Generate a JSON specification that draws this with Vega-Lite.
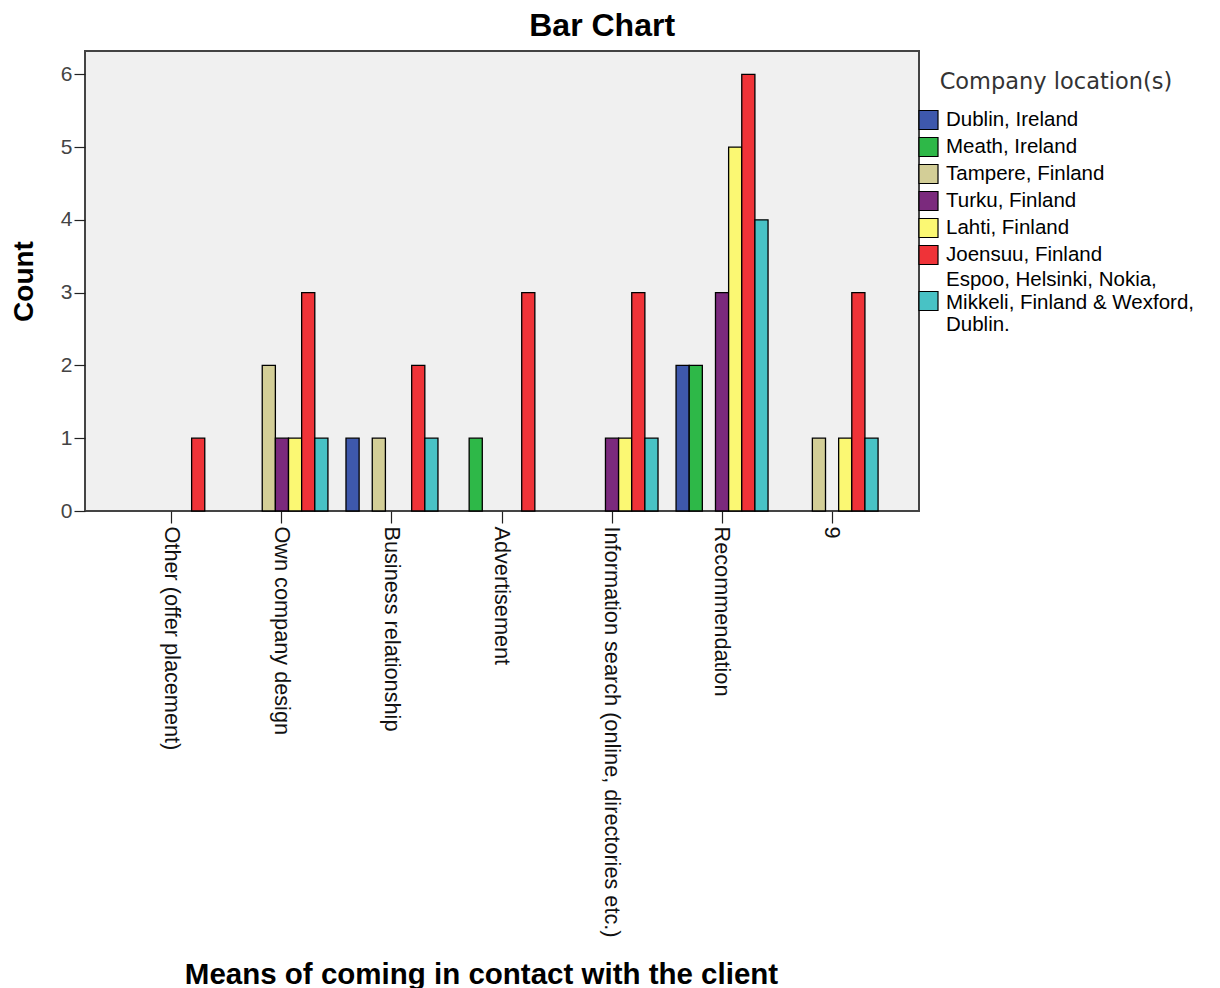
{
  "$schema": "https://vega.github.io/schema/vega-lite/v6.json",
  "autosize": {"type": "none"},
  "padding": {"left": 85, "top": 51, "right": 301, "bottom": 477},
  "width": 834,
  "height": 460,
  "background": "white",
  "title": {
    "text": "Bar Chart",
    "fontSize": 32,
    "font": "Liberation Sans",
    "fontWeight": "bold",
    "color": "#000000",
    "anchor": "middle",
    "frame": "bounds",
    "offset": 8
  },
  "config": {
    "view": {"fill": "#F0F0F0", "stroke": "#444444", "strokeWidth": 2},
    "axis": {"grid": false, "domain": false}
  },
  "data": {
    "values": [
      {"means": "Other (offer placement)", "location": "Joensuu, Finland", "count": 1},
      {"means": "Own company design", "location": "Tampere, Finland", "count": 2},
      {"means": "Own company design", "location": "Turku, Finland", "count": 1},
      {"means": "Own company design", "location": "Lahti, Finland", "count": 1},
      {"means": "Own company design", "location": "Joensuu, Finland", "count": 3},
      {"means": "Own company design", "location": "Espoo, Helsinki, Nokia, Mikkeli, Finland & Wexford, Dublin.", "count": 1},
      {"means": "Business relationship", "location": "Dublin, Ireland", "count": 1},
      {"means": "Business relationship", "location": "Tampere, Finland", "count": 1},
      {"means": "Business relationship", "location": "Joensuu, Finland", "count": 2},
      {"means": "Business relationship", "location": "Espoo, Helsinki, Nokia, Mikkeli, Finland & Wexford, Dublin.", "count": 1},
      {"means": "Advertisement", "location": "Meath, Ireland", "count": 1},
      {"means": "Advertisement", "location": "Joensuu, Finland", "count": 3},
      {"means": "Information search (online, directories etc.)", "location": "Turku, Finland", "count": 1},
      {"means": "Information search (online, directories etc.)", "location": "Lahti, Finland", "count": 1},
      {"means": "Information search (online, directories etc.)", "location": "Joensuu, Finland", "count": 3},
      {"means": "Information search (online, directories etc.)", "location": "Espoo, Helsinki, Nokia, Mikkeli, Finland & Wexford, Dublin.", "count": 1},
      {"means": "Recommendation", "location": "Dublin, Ireland", "count": 2},
      {"means": "Recommendation", "location": "Meath, Ireland", "count": 2},
      {"means": "Recommendation", "location": "Turku, Finland", "count": 3},
      {"means": "Recommendation", "location": "Lahti, Finland", "count": 5},
      {"means": "Recommendation", "location": "Joensuu, Finland", "count": 6},
      {"means": "Recommendation", "location": "Espoo, Helsinki, Nokia, Mikkeli, Finland & Wexford, Dublin.", "count": 4},
      {"means": "9", "location": "Tampere, Finland", "count": 1},
      {"means": "9", "location": "Lahti, Finland", "count": 1},
      {"means": "9", "location": "Joensuu, Finland", "count": 3},
      {"means": "9", "location": "Espoo, Helsinki, Nokia, Mikkeli, Finland & Wexford, Dublin.", "count": 1}
    ]
  },
  "mark": {"type": "bar", "stroke": "#000000", "strokeWidth": 1.3},
  "encoding": {
    "x": {
      "field": "means",
      "type": "nominal",
      "sort": ["Other (offer placement)", "Own company design", "Business relationship", "Advertisement", "Information search (online, directories etc.)", "Recommendation", "9"],
      "scale": {
        "domain": ["Other (offer placement)", "Own company design", "Business relationship", "Advertisement", "Information search (online, directories etc.)", "Recommendation", "9"],
        "paddingInner": 0.164,
        "paddingOuter": 0.372
      },
      "axis": {
        "title": "Means of coming in contact with the client",
        "titleFont": "Liberation Sans",
        "titleFontSize": 29.5,
        "titleFontWeight": "bold",
        "titleColor": "#000000",
        "titleX": 396,
        "titleY": 472,
        "titleAlign": "center",
        "titleBaseline": "alphabetic",
        "labelAngle": 90,
        "labelFont": "Liberation Sans",
        "labelFontSize": 21.7,
        "labelColor": "#111111",
        "labelLimit": 600,
        "labelPadding": 3,
        "tickSize": 12,
        "tickColor": "#222222",
        "tickWidth": 1.2
      }
    },
    "xOffset": {
      "field": "location",
      "type": "nominal",
      "scale": {
        "domain": ["Dublin, Ireland", "Meath, Ireland", "Tampere, Finland", "Turku, Finland", "Lahti, Finland", "Joensuu, Finland", "Espoo, Helsinki, Nokia, Mikkeli, Finland & Wexford, Dublin."],
        "paddingInner": 0,
        "paddingOuter": 0
      }
    },
    "y": {
      "field": "count",
      "type": "quantitative",
      "scale": {"domain": [0, 6.32], "nice": false, "zero": true},
      "axis": {
        "title": "Count",
        "titleFont": "Liberation Sans",
        "titleFontSize": 28,
        "titleFontWeight": "bold",
        "titleColor": "#000000",
        "titlePadding": 22,
        "values": [0, 1, 2, 3, 4, 5, 6],
        "format": "d",
        "labelFont": "Liberation Sans",
        "labelFontSize": 21,
        "labelColor": "#444444",
        "labelPadding": 2,
        "tickSize": 11,
        "tickColor": "#222222",
        "tickWidth": 1.2
      }
    },
    "color": {
      "field": "location",
      "type": "nominal",
      "scale": {
        "domain": ["Dublin, Ireland", "Meath, Ireland", "Tampere, Finland", "Turku, Finland", "Lahti, Finland", "Joensuu, Finland", "Espoo, Helsinki, Nokia, Mikkeli, Finland & Wexford, Dublin."],
        "range": ["#3E58AC", "#2EB848", "#D3CE97", "#7B2A7D", "#FBF873", "#EF3338", "#48C2C5"]
      },
      "legend": {
        "title": "Company location(s)",
        "orient": "none",
        "legendX": 833,
        "legendY": 20,
        "titleFont": "DejaVu Sans",
        "titleFontSize": 22.5,
        "titleFontWeight": "normal",
        "titleColor": "#333333",
        "titleAnchor": "middle",
        "titleLimit": 500,
        "titlePadding": 16,
        "symbolType": "square",
        "symbolSize": 361,
        "symbolStrokeColor": "#000000",
        "symbolStrokeWidth": 1.2,
        "symbolOpacity": 1,
        "labelFont": "Liberation Sans",
        "labelFontSize": 20.5,
        "labelColor": "#000000",
        "labelOffset": 7,
        "labelLimit": 400,
        "labelLineHeight": 21,
        "rowPadding": 2,
        "padding": 0,
        "labelExpr": "datum.label == 'Espoo, Helsinki, Nokia, Mikkeli, Finland & Wexford, Dublin.' ? ['Espoo, Helsinki, Nokia,', 'Mikkeli, Finland & Wexford,', 'Dublin.'] : datum.label",
        "encoding": {
          "labels": {
            "dy": {"value": {"expr": "indexof(datum.label, 'Espoo') == 0 ? -21 : 0"}}
          }
        }
      }
    }
  }
}
